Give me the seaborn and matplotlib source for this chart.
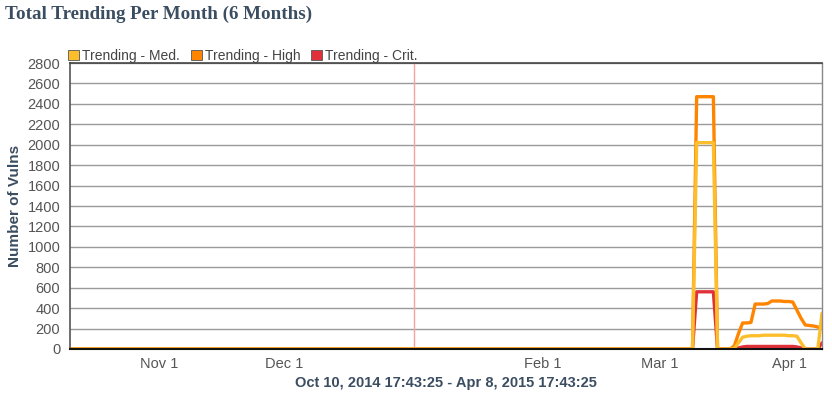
#!/usr/bin/env python

import matplotlib
matplotlib.use('Agg')
import matplotlib.pyplot as plt
import matplotlib.dates as mdates
from matplotlib.patches import Patch
import pandas as pd
import seaborn as sns

START = '2014-10-10 17:43:25'
END = '2015-04-08 17:43:25'
JAN_MARK = '2015-01-01'

SERIES = ['Trending - Med.', 'Trending - High', 'Trending - Crit.']
COLORS = ['#FDBE2C', '#FF8400', '#E0303A']

# daily values from Mar 8 to Apr 8 2015, everything before is zero
MED_TAIL = [0, 2020, 2020, 2020, 2020, 2020, 0, 0, 0, 0,
            5, 60, 115, 125, 130,
            130, 130, 135, 135, 135, 135, 135, 135, 130, 130,
            125, 60, 0, 0, 0, 0, 350]
HIGH_TAIL = [0, 2470, 2470, 2470, 2470, 2470, 0, 0, 0, 0,
             30, 150, 255, 255, 260,
             440, 440, 440, 445, 470, 470, 470, 465, 465, 460,
             380, 300, 235, 230, 225, 215, 200]
CRIT_TAIL = [0, 560, 560, 560, 560, 560, 0, 0, 0, 0,
             0, 10, 20, 25, 25,
             25, 25, 25, 25, 25, 25, 25, 25, 25, 25,
             20, 10, 0, 0, 0, 0, 60]

TICK_DATES = ['2014-11-01', '2014-12-01', '2015-02-01', '2015-03-01', '2015-04-01']
TICK_LABELS = ['Nov 1', 'Dec 1', 'Feb 1', 'Mar 1', 'Apr 1']

TEXT_COLOR = '#3b4d61'


def main():
    dates = pd.date_range(START, END, freq='D')
    n_zero = len(dates) - len(MED_TAIL)
    frames = []
    for name, tail in zip(SERIES, [MED_TAIL, HIGH_TAIL, CRIT_TAIL]):
        frames.append(pd.DataFrame({
            'date'  : dates,
            'vulns' : [0] * n_zero + tail,
            'series': name,
        }))
    data = pd.concat(frames, ignore_index=True)

    sns.set_style('white')
    plt.rcParams['font.family'] = ['Liberation Sans', 'DejaVu Sans']

    fig = plt.figure(figsize=(8.32, 4.0), dpi=100)
    ax = fig.add_axes([70 / 832, 1 - 349 / 400, 752 / 832, 286 / 400])

    palette = dict(zip(SERIES, COLORS))
    # yellow drawn last so it sits on top
    sns.lineplot(
        data      = data,
        x         = 'date',
        y         = 'vulns',
        hue       = 'series',
        hue_order = SERIES[::-1],
        palette   = palette,
        lw        = 2.4,
        legend    = False,
        ax        = ax,
    )
    for line in ax.get_lines():
        line.set_solid_joinstyle('round')

    ax.axvline(pd.Timestamp(JAN_MARK), color='#F4A3A3', lw=1, zorder=1)

    ax.set_xlim(pd.Timestamp(START), pd.Timestamp(END))
    ax.set_ylim(0, 2800)
    ax.set_yticks(range(0, 2801, 200))
    ax.yaxis.grid(True, color='#9a9a9a', lw=1)
    ax.set_axisbelow(True)

    ax.set_xticks([mdates.date2num(pd.Timestamp(d)) for d in TICK_DATES])
    ax.set_xticklabels(TICK_LABELS)
    ax.tick_params(axis='x', direction='in', length=13, width=0.8,
                   color='#777777', labelsize=10.5, labelcolor='#555555', pad=6)
    ax.tick_params(axis='y', direction='out', length=5, width=0.8,
                   color='#555555', labelsize=10.5, labelcolor='#555555', pad=2)

    for side in ['left', 'right', 'top', 'bottom']:
        ax.spines[side].set_visible(True)
    ax.spines['bottom'].set_color('#111111')
    ax.spines['bottom'].set_linewidth(1.5)
    ax.spines['left'].set_color('#555555')
    ax.spines['left'].set_linewidth(1.2)
    ax.spines['top'].set_color('#444444')
    ax.spines['top'].set_linewidth(1.2)
    ax.spines['right'].set_color('#888888')
    ax.spines['right'].set_linewidth(1)

    ax.set_xlabel('Oct 10, 2014 17:43:25 - Apr 8, 2015 17:43:25',
                  fontsize=10.5, fontweight='bold', color=TEXT_COLOR, labelpad=3)
    ax.set_ylabel('Number of Vulns', fontsize=11, fontweight='bold',
                  color=TEXT_COLOR, labelpad=4)

    handles = [Patch(facecolor=c, edgecolor='#555555', lw=0.6) for c in COLORS]
    fig.legend(
        handles, SERIES,
        loc            = 'lower left',
        bbox_to_anchor = (68 / 832, 1 - 63 / 400),
        ncol           = 3,
        frameon        = False,
        fontsize       = 10,
        handlelength   = 0.8,
        handleheight   = 0.8,
        handletextpad  = 0.2,
        columnspacing  = 0.8,
        borderpad      = 0,
        borderaxespad  = 0,
        labelcolor     = '#444444',
    )

    fig.text(5 / 832, 1 - 14 / 400, 'Total Trending Per Month (6 Months)',
             family=['Liberation Serif', 'DejaVu Serif'], fontsize=13.7,
             fontweight='bold', color=TEXT_COLOR, va='center', ha='left')

    fig.savefig('out.png', dpi=100)
    plt.close(fig)


if __name__ == '__main__':
    main()
